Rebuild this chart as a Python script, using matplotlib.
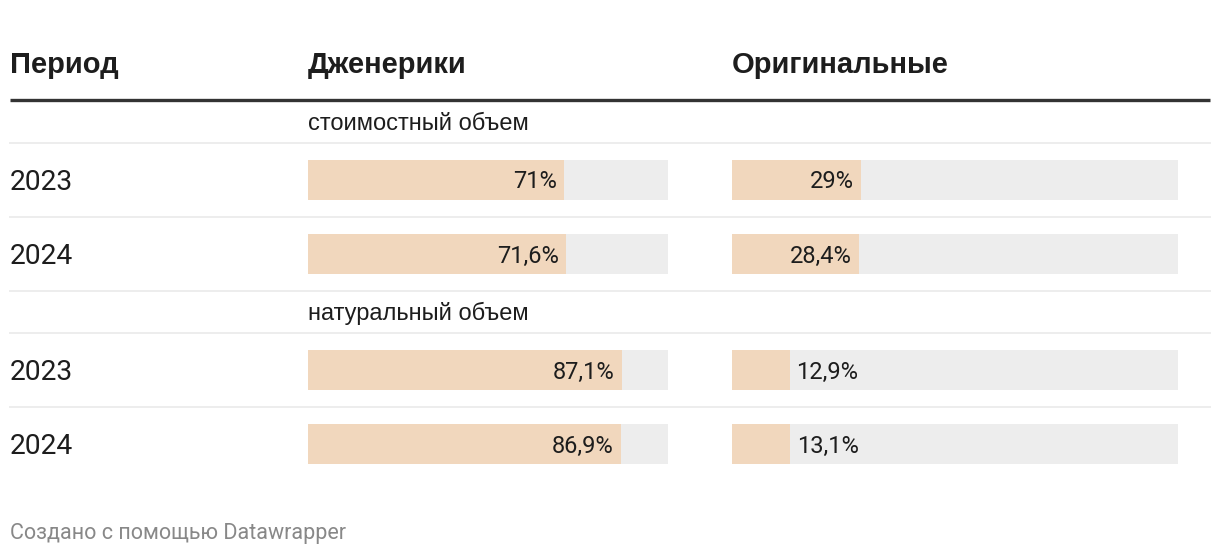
import matplotlib
matplotlib.use("Agg")
import matplotlib.pyplot as plt

# данные таблицы
columns = ["Период", "Дженерики", "Оригинальные"]
groups = ["стоимостный объем", "натуральный объем"]
periods = ["2023", "2024", "2023", "2024"]
generics = [71.0, 71.6, 87.1, 86.9]
originals = [29.0, 28.4, 12.9, 13.1]
footer = "Создано с помощью Datawrapper"

W, H = 1220, 556
bar_color = "#f1d7bd"
bg_color = "#ededed"
text_color = "#1d1d1d"
line_color = "#ededed"

fig = plt.figure(figsize=(W / 100, H / 100), dpi=100)
ax = fig.add_axes([0, 0, 1, 1])
ax.set_xlim(0, W)
ax.set_ylim(H, 0)
ax.axis("off")

head_font = "Liberation Sans"
body_font = "Roboto"

# заголовки
for x, name in zip([10, 308, 732], columns):
    ax.text(x, 65, name, fontsize=21, fontweight="bold", family=head_font,
            color=text_color, va="center", ha="left")
ax.plot([10, 1210], [100, 100], color="#333333", lw=2.4, solid_capstyle="butt")

# разделители
for y in [143, 217, 291, 333, 407]:
    ax.plot([10, 1210], [y, y], color=line_color, lw=1.4)

# подписи групп
for y, g in zip([124, 313], groups):
    ax.text(308, y, g, fontsize=17, family=head_font, color=text_color,
            va="center", ha="left")

row_y = [180, 254, 370, 444]
bar_h = 40

for y, p in zip(row_y, periods):
    ax.text(10, y + 3, p, fontsize=20.3, family=body_font, color=text_color,
            va="center", ha="left")

# столбцы с барами: отдельные оси с шкалой 0..100
def bar_column(x0, x1, values):
    cax = fig.add_axes([x0 / W, 0, (x1 - x0) / W, 1])
    cax.set_xlim(0, 100)
    cax.set_ylim(H, 0)
    cax.axis("off")
    cax.barh(row_y, [100] * len(values), height=bar_h, color=bg_color, left=0)
    cax.barh(row_y, values, height=bar_h, color=bar_color, left=0)
    px = 100 / (x1 - x0)
    for y, v in zip(row_y, values):
        label = f"{v:.1f}".rstrip("0").rstrip(".").replace(".", ",") + "%"
        if v * (x1 - x0) / 100 > 90:
            cax.text(v - 7 * px, y + 2, label, ha="right", va="center",
                     fontsize=17, family=body_font, color=text_color)
        else:
            cax.text(v + 7 * px, y + 2, label, ha="left", va="center",
                     fontsize=17, family=body_font, color=text_color)

bar_column(308, 668, generics)
bar_column(732, 1178, originals)

ax.text(10, 533, footer, fontsize=15.5, family=body_font, color="#888888",
        va="center", ha="left")

fig.savefig("out.png", dpi=100)
